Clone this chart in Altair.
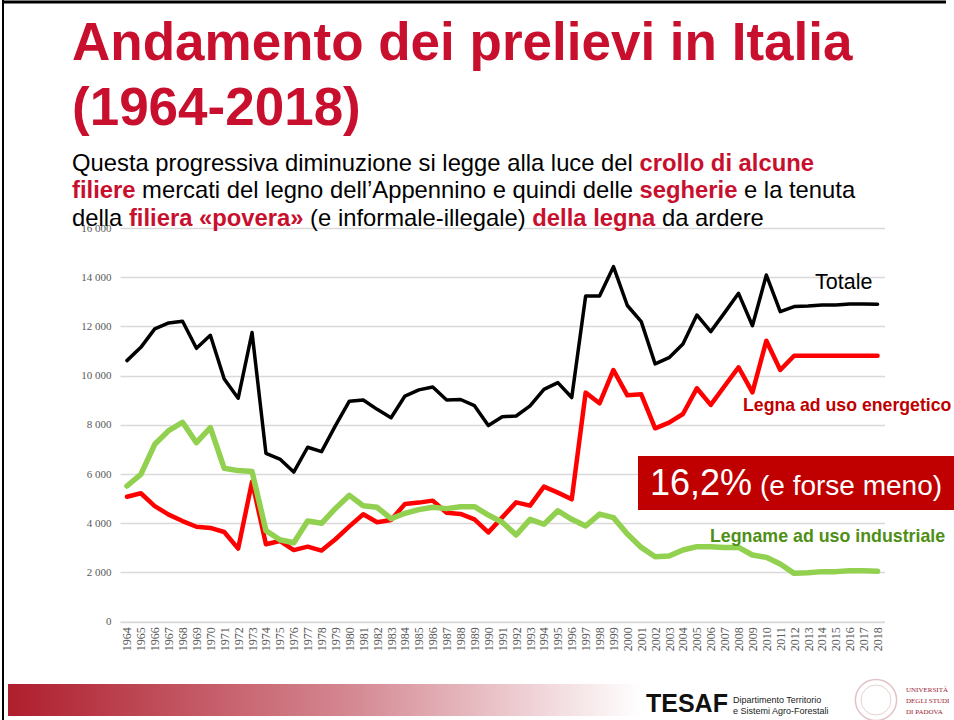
import altair as alt
import pandas as pd

# ---------------- data ----------------
years = list(range(1964, 2019))
totale = [10610, 11150, 11900, 12140, 12210, 11110, 11640, 9860, 9080, 11750,
          6840, 6610, 6080, 7090, 6910, 7970, 8960, 9010, 8630, 8290,
          9170, 9420, 9540, 9010, 9030, 8780, 7970, 8330, 8360, 8770,
          9440, 9715, 9110, 13240, 13240, 14430, 12850, 12195, 10475, 10730,
          11290, 12465, 11790, 12560, 13345, 12030, 14090, 12600, 12805, 12830,
          12870, 12870, 12910, 12910, 12900]
energia = [5080, 5220, 4700, 4350, 4090, 3860, 3810, 3645, 2970, 5690,
           3145, 3280, 2910, 3050, 2890, 3350, 3875, 4365, 4040, 4135,
           4785, 4840, 4920, 4430, 4380, 4160, 3630, 4240, 4850, 4715,
           5490, 5245, 4975, 9310, 8875, 10230, 9200, 9240, 7860, 8090,
           8440, 9485, 8810, 9580, 10340, 9320, 11420, 10230, 10810, 10810,
           10810, 10810, 10810, 10810, 10810]
industriale = [5515, 5990, 7210, 7765, 8105, 7275, 7885, 6235, 6140, 6100,
               3700, 3330, 3210, 4090, 4000, 4605, 5135, 4715, 4650, 4185,
               4405, 4555, 4650, 4595, 4675, 4675, 4335, 4040, 3525, 4160,
               3960, 4510, 4160, 3890, 4375, 4230, 3560, 3020, 2640, 2670,
               2915, 3050, 3050, 3020, 3020, 2710, 2615, 2345, 1965, 1990,
               2035, 2035, 2070, 2070, 2050]
series_names = ["Totale", "Legna ad uso energetico", "Legname ad uso industriale"]
y_ticks = [0, 2000, 4000, 6000, 8000, 10000, 12000, 14000, 16000]

subtitle_lines = [
    [("Questa progressiva diminuzione si legge alla luce del ", False),
     ("crollo di alcune", True)],
    [("filiere", True),
     (" mercati del legno dell\u2019Appennino e quindi delle ", False),
     ("segherie", True),
     (" e la tenuta", False)],
    [("della ", False),
     ("filiera \u00abpovera\u00bb", True),
     (" (e informale-illegale) ", False),
     ("della legna", True),
     (" da ardere", False)],
]

rows = []
for name, vals in zip(series_names, [totale, energia, industriale]):
    for yr, v in zip(years, vals):
        rows.append({"anno": yr, "serie": name, "valore": v})
df = pd.DataFrame(rows)

# ---------------- layout ----------------
L, T = 120, 228          # plot origin in page pixels
W, H = 764.5, 393.7      # plot size
SANS = "Liberation Sans"
SERIF = "Liberation Serif"
RED_TXT = "#C8102E"

# Arial / Liberation Sans advance widths (per 1000 em) for text layout
REG = dict(zip(" abcdefghijklmnopqrstuvwxyzAQ\u2019()-\u00ab\u00bb",
               [278, 556, 556, 500, 556, 556, 278, 556, 556, 222, 222, 500, 222, 833, 556,
                556, 556, 556, 333, 500, 278, 556, 500, 722, 500, 500, 500, 667, 778,
                222, 333, 333, 333, 556, 556]))
BOLD = dict(zip(" abcdefghijklmnopqrstuvwxyz\u00ab\u00bb",
                [278, 556, 611, 556, 611, 556, 333, 611, 611, 278, 278, 556, 278, 889, 611,
                 611, 611, 611, 389, 556, 333, 611, 556, 778, 556, 556, 500, 556, 556]))

def text_width(s, size, bold):
    table = BOLD if bold else REG
    return sum(table.get(ch, 556) for ch in s) * size / 1000.0

def px(x):
    return x - L

def py(y):
    return y - T

one = pd.DataFrame({"k": [0]})

def text(txt, x, y, size, color="#000000", bold=False, font=SANS, align="left", baseline="alphabetic"):
    return alt.Chart(one).mark_text(
        text=txt, font=font, fontSize=size, color=color,
        fontWeight="bold" if bold else "normal", align=align, baseline=baseline
    ).encode(x=alt.value(px(x)), y=alt.value(py(y)))

def rule(x1, y1, x2, y2, color, width):
    return alt.Chart(one).mark_rule(color=color, strokeWidth=width).encode(
        x=alt.value(px(x1)), y=alt.value(py(y1)), x2=alt.value(px(x2)), y2=alt.value(py(y2)))

base = alt.Chart(df).encode(
    x=alt.X("anno:O", title=None,
            scale=alt.Scale(type="point", padding=0.5),
            axis=alt.Axis(labelAngle=270, labelFont=SERIF, labelFontSize=12,
                          labelColor="#595959", ticks=False, domainColor="#D9D9D9",
                          domainWidth=1.5, labelPadding=5, grid=False)),
    y=alt.Y("valore:Q", title=None,
            scale=alt.Scale(domain=[0, 16000], nice=False, zero=True),
            axis=alt.Axis(values=y_ticks, labelFont=SERIF, labelFontSize=11,
                          labelColor="#595959", ticks=False, domain=False,
                          gridColor="#D9D9D9", gridWidth=1.5, labelPadding=9,
                          labelExpr="replace(format(datum.value, ','), ',', ' ')")),
)

def series_line(name, color, width):
    return base.transform_filter(alt.datum.serie == name).mark_line(
        color=color, strokeWidth=width, strokeJoin="round", strokeCap="round")

lines = [
    series_line("Totale", "#000000", 3.5),
    series_line("Legna ad uso energetico", "#FF0000", 4.5),
    series_line("Legname ad uso industriale", "#92D050", 5.5),
]

annotations = [
    text("Andamento dei prelievi in Italia", 72, 60, 53, RED_TXT, bold=True),
    text("(1964-2018)", 72, 125, 53, RED_TXT, bold=True),
]

SUB_SIZE = 23.8
for baseline_y, segments in zip([171, 198, 226], subtitle_lines):
    x = 72.0
    for seg, bold in segments:
        core = seg.strip()
        lead = len(seg) - len(seg.lstrip())
        trail = len(seg) - len(seg.rstrip())
        x += text_width(" " * lead, SUB_SIZE, bold)
        annotations.append(text(core, x, baseline_y, SUB_SIZE,
                                RED_TXT if bold else "#000000", bold=bold))
        x += text_width(core, SUB_SIZE, bold) + text_width(" " * trail, SUB_SIZE, bold)

annotations += [
    text("Totale", 815, 289, 21.5),
    text("Legna ad uso energetico", 743, 411, 17.7, "#C00000", bold=True),
    text("Legname ad uso industriale", 710, 542, 17.8, "#4E8F16", bold=True),
]

box = alt.Chart(one).mark_rect(color="#C00000").encode(
    x=alt.value(px(638)), x2=alt.value(px(954)), y=alt.value(py(456)), y2=alt.value(py(510)))
box_texts = [
    text("16,2%", 650, 495, 36, "#FFFFFF"),
    text("(e forse meno)", 760, 495, 28, "#FFFFFF"),
]

footer_bar = alt.Chart(one).mark_rect(
    color=alt.Gradient(gradient="linear", x1=0, x2=1, y1=0, y2=0,
                       stops=[alt.GradientStop(color="#AF1E2D", offset=0),
                              alt.GradientStop(color="#D58A94", offset=0.55),
                              alt.GradientStop(color="#FFFFFF", offset=1)])
).encode(x=alt.value(px(8)), x2=alt.value(px(642)), y=alt.value(py(684)), y2=alt.value(py(716)))

seal = [
    alt.Chart(one).mark_point(shape="circle", filled=False, size=1700, color="#D7A9AE", strokeWidth=1.5)
    .encode(x=alt.value(px(876)), y=alt.value(py(700))),
    alt.Chart(one).mark_point(shape="circle", filled=False, size=900, color="#E2BFC3", strokeWidth=1)
    .encode(x=alt.value(px(876)), y=alt.value(py(700))),
]

footer_texts = [
    text("TESAF", 646, 712, 25, "#111111", bold=True),
    text("Dipartimento Territorio", 733, 703, 9, "#222222"),
    text("e Sistemi Agro-Forestali", 733, 714, 9, "#222222"),
    text("UNIVERSIT\u00c0", 906, 692, 7, "#9B1B30", font=SERIF),
    text("DEGLI STUDI", 906, 703, 7, "#9B1B30", font=SERIF),
    text("DI PADOVA", 906, 714, 7, "#9B1B30", font=SERIF),
]

frame = [
    rule(3, 0, 3, 720, "#000000", 2),
    rule(3, 2, 946, 2, "#000000", 3),
]

chart = alt.layer(
    *lines, *annotations, box, *box_texts, footer_bar, *seal, *footer_texts, *frame
).properties(
    width=W, height=H,
    autosize=alt.AutoSizeParams(type="none"),
    padding={"left": L, "top": T, "right": 954 - L - W, "bottom": 720 - T - H},
    background="#FFFFFF",
).configure_view(stroke=None)

chart.save("out.html", embed_options={"renderer": "svg", "actions": False})
